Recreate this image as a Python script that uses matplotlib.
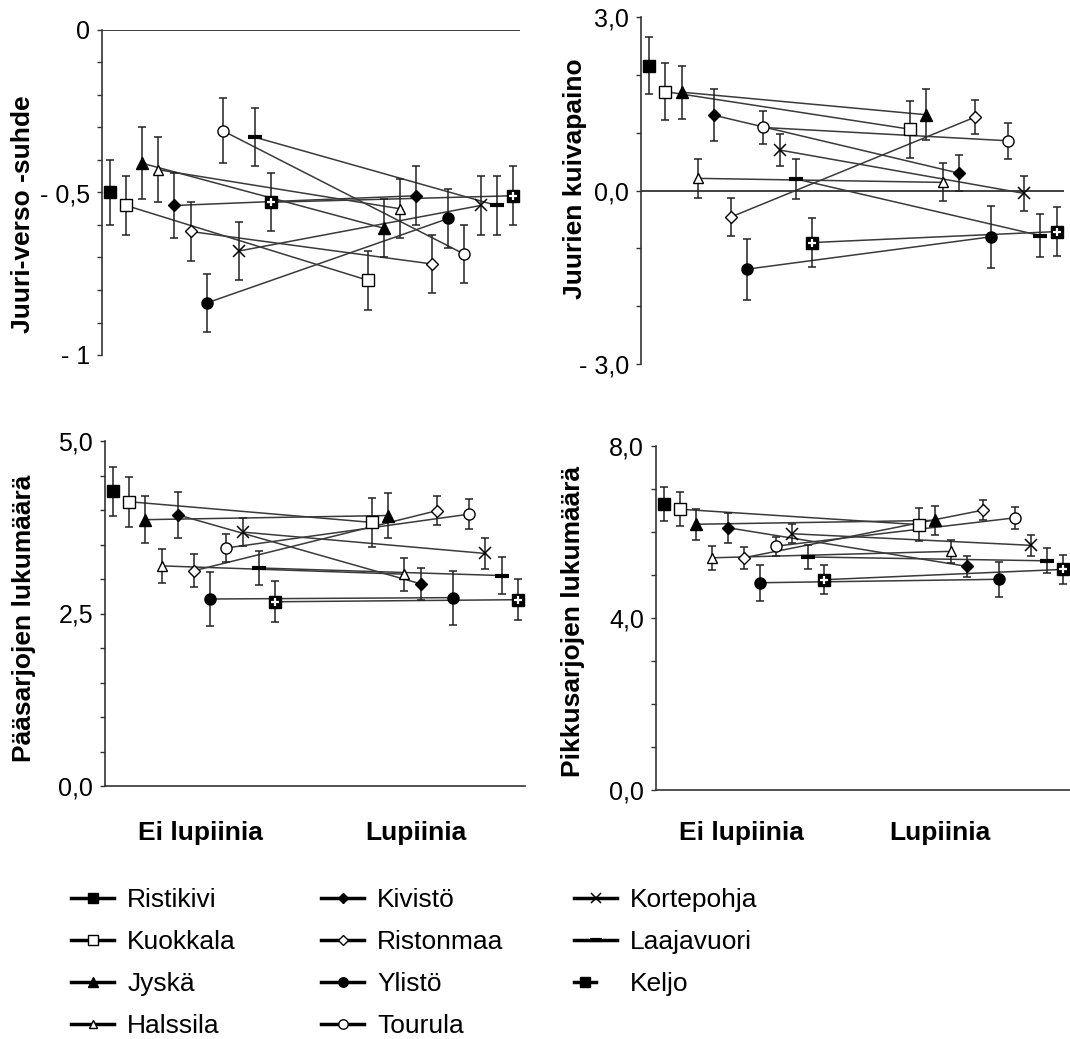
import numpy as np
import matplotlib
matplotlib.use("Agg")
import matplotlib.pyplot as plt
from matplotlib.lines import Line2D
from matplotlib.legend_handler import HandlerTuple

plt.rcParams['font.family'] = ['Liberation Sans', 'DejaVu Sans']

nan = np.nan
sites = ["Ristikivi", "Kuokkala", "Jyskä", "Halssila", "Kivistö", "Ristonmaa",
         "Ylistö", "Tourula", "Kortepohja", "Laajavuori", "Keljo"]
groups = ["Ei lupiinia", "Lupiinia"]

# Juuri-verso -suhde
rs_ei = [-0.50, -0.54, -0.41, -0.43, -0.54, -0.62, -0.84, -0.31, -0.68, -0.33, -0.53]
rs_ei_err = [0.10, 0.09, 0.11, 0.10, 0.10, 0.09, 0.09, 0.10, 0.09, 0.09, 0.09]
rs_lup = [nan, -0.77, -0.61, -0.55, -0.51, -0.72, -0.58, -0.69, -0.54, -0.54, -0.51]
rs_lup_err = [nan, 0.09, 0.09, 0.09, 0.09, 0.09, 0.09, 0.09, 0.09, 0.09, 0.09]

# Juurien kuivapaino
dw_ei = [2.16, 1.71, 1.70, 0.21, 1.30, -0.46, -1.36, 1.09, 0.70, 0.20, -0.90]
dw_ei_err = [0.50, 0.49, 0.46, 0.34, 0.45, 0.33, 0.53, 0.29, 0.27, 0.34, 0.43]
dw_lup = [nan, 1.06, 1.31, 0.14, 0.30, 1.27, -0.80, 0.86, -0.05, -0.78, -0.71]
dw_lup_err = [nan, 0.49, 0.44, 0.33, 0.31, 0.30, 0.54, 0.31, 0.30, 0.37, 0.43]

# Pääsarjojen lukumäärä
ms_ei = [4.27, 4.12, 3.86, 3.19, 3.93, 3.12, 2.71, 3.45, 3.68, 3.16, 2.67]
ms_ei_err = [0.36, 0.36, 0.34, 0.25, 0.33, 0.24, 0.39, 0.20, 0.20, 0.24, 0.30]
ms_lup = [nan, 3.82, 3.92, 3.07, 2.93, 3.99, 2.73, 3.94, 3.37, 3.05, 2.70]
ms_lup_err = [nan, 0.36, 0.33, 0.24, 0.23, 0.21, 0.39, 0.22, 0.22, 0.27, 0.30]

# Pikkusarjojen lukumäärä
ss_ei = [6.65, 6.53, 6.18, 5.40, 6.10, 5.40, 4.82, 5.67, 5.96, 5.42, 4.89]
ss_ei_err = [0.40, 0.39, 0.36, 0.28, 0.35, 0.26, 0.42, 0.22, 0.22, 0.28, 0.34]
ss_lup = [nan, 6.17, 6.27, 5.55, 5.20, 6.51, 4.90, 6.33, 5.69, 5.33, 5.13]
ss_lup_err = [nan, 0.39, 0.34, 0.26, 0.24, 0.24, 0.41, 0.25, 0.25, 0.29, 0.34]

# marker style per site
styles = {
    "Ristikivi": dict(marker='s', ms=8, mfc='black', mec='black'),
    "Kuokkala": dict(marker='s', ms=8, mfc='white', mec='black', mew=1),
    "Jyskä": dict(marker='^', ms=8.5, mfc='black', mec='black'),
    "Halssila": dict(marker='^', ms=7, mfc='white', mec='black', mew=1),
    "Kivistö": dict(marker='D', ms=6, mfc='black', mec='black'),
    "Ristonmaa": dict(marker='D', ms=6, mfc='white', mec='black', mew=1),
    "Ylistö": dict(marker='o', ms=8, mfc='black', mec='black'),
    "Tourula": dict(marker='o', ms=8, mfc='white', mec='black', mew=1),
    "Kortepohja": dict(marker='x', ms=8, mec='black', mew=1.1),
    "Laajavuori": dict(marker='_', ms=10, mec='black', mew=3),
    "Keljo": dict(marker='s', ms=8, mfc='black', mec='black'),
}
keljo_plus = dict(marker='+', ms=6, mec='white', mew=1.6)

W, H = 1070, 1039
fig = plt.figure(figsize=(W / 100, H / 100), dpi=100)


def px_axes(left, right, top, bottom):
    return fig.add_axes([left / W, 1 - bottom / H, (right - left) / W, (bottom - top) / H])


step = 0.0667
x_ei = (np.arange(len(sites)) - 5.5) * step
x_lup = x_ei + 1


def draw_panel(ax, ei, ei_err, lup, lup_err):
    for i, site in enumerate(sites):
        if not np.isnan(lup[i]):
            ax.plot([x_ei[i], x_lup[i]], [ei[i], lup[i]], color='#3a3a3a', lw=1.1, zorder=1)
        for x, y, e in ((x_ei[i], ei[i], ei_err[i]), (x_lup[i], lup[i], lup_err[i])):
            if np.isnan(y):
                continue
            ax.errorbar(x, y, yerr=e, fmt='none', ecolor='#222222', elinewidth=1.1,
                        capsize=3, capthick=1.1, zorder=2, clip_on=False)
            ax.plot([x], [y], linestyle='none', zorder=3, clip_on=False, **styles[site])
            if site == "Keljo":
                ax.plot([x], [y], linestyle='none', zorder=4, clip_on=False, **keljo_plus)


def style_axis(ax, ylim, ticks, labels, ylabel, lab_xy):
    ax.set_xlim(-0.40, 1.33)
    ax.set_ylim(*ylim)
    ax.set_yticks(ticks)
    ax.set_yticklabels(labels)
    for s in ['top', 'right', 'bottom']:
        ax.spines[s].set_visible(False)
    ax.spines['left'].set_color('#333333')
    ax.spines['left'].set_linewidth(1.2)
    ax.tick_params(axis='y', direction='out', length=3.5, width=1, color='#333333',
                   labelsize=18, pad=5)
    ax.set_ylabel(ylabel, fontsize=19, fontweight='bold')
    ax.yaxis.label.set_va('center')
    ax.yaxis.set_label_coords(*lab_xy)
    ax.set_xticks([])


def lab(vals, named):
    return [named.get(round(v, 2), '') for v in vals]


# top left
ax1 = px_axes(102, 520, 30, 355)
draw_panel(ax1, rs_ei, rs_ei_err, rs_lup, rs_lup_err)
t1 = np.round(np.arange(-1, 0.001, 0.1), 2)
style_axis(ax1, (-1, 0), t1, lab(t1, {0.0: '0', -0.5: '- 0,5', -1.0: '- 1'}),
           "Juuri-verso -suhde", (-0.189, 0.434))
ax1.axhline(0, color='#333333', lw=1.3, zorder=0)

# top right
ax2 = px_axes(641, 1064, 17, 364)
draw_panel(ax2, dw_ei, dw_ei_err, dw_lup, dw_lup_err)
t2 = np.arange(-3, 3.1, 1.0)
style_axis(ax2, (-3, 3), t2, lab(t2, {3.0: '3,0', 0.0: '0,0', -3.0: '- 3,0'}),
           "Juurien kuivapaino", (-0.156, 0.533))
ax2.axhline(0, color='#333333', lw=1.3, zorder=0)

# bottom left
ax3 = px_axes(105, 525, 441, 786)
draw_panel(ax3, ms_ei, ms_ei_err, ms_lup, ms_lup_err)
t3 = np.round(np.arange(0, 5.01, 0.5), 2)
style_axis(ax3, (0, 5), t3, lab(t3, {5.0: '5,0', 2.5: '2,5', 0.0: '0,0'}),
           "Pääsarjojen lukumäärä", (-0.193, 0.487))
ax3.spines['bottom'].set_visible(True)
ax3.spines['bottom'].set_color('#333333')
ax3.spines['bottom'].set_linewidth(1.2)
ax3.set_xticks([-0.006, 0.879])
ax3.set_xticklabels(groups, fontsize=19, fontweight='bold')
ax3.tick_params(axis='x', length=0, pad=25)

# bottom right
ax4 = px_axes(656, 1070, 446, 790)
draw_panel(ax4, ss_ei, ss_ei_err, ss_lup, ss_lup_err)
t4 = np.arange(0, 8.1, 1.0)
style_axis(ax4, (0, 8), t4, lab(t4, {8.0: '8,0', 4.0: '4,0', 0.0: '0,0'}),
           "Pikkusarjojen lukumäärä", (-0.2, 0.491))
ax4.spines['bottom'].set_visible(True)
ax4.spines['bottom'].set_color('#333333')
ax4.spines['bottom'].set_linewidth(1.2)
ax4.set_xticks([-0.043, 0.788])
ax4.set_xticklabels(groups, fontsize=19, fontweight='bold')
ax4.tick_params(axis='x', length=0, pad=22)

# legend in three columns
handles = []
for site in sites:
    st = dict(styles[site])
    st['ms'] = st['ms'] * 0.85
    h = Line2D([], [], color='black', lw=2.5, **st)
    if site == "Keljo":
        h = (h, Line2D([], [], linestyle='none', **keljo_plus))
    handles.append(h)

cols = [(0, 4, 71), (4, 8, 321), (8, 11, 574)]
for a, b, xpx in cols:
    fig.legend(handles[a:b], sites[a:b], loc='upper left',
               bbox_to_anchor=(xpx / W, 1 - 888 / H), frameon=False, fontsize=19,
               handlelength=1.63, handletextpad=0.5, labelspacing=0.68,
               borderpad=0, borderaxespad=0,
               handler_map={tuple: HandlerTuple(ndivide=None)})

fig.savefig("out.png", dpi=100)
